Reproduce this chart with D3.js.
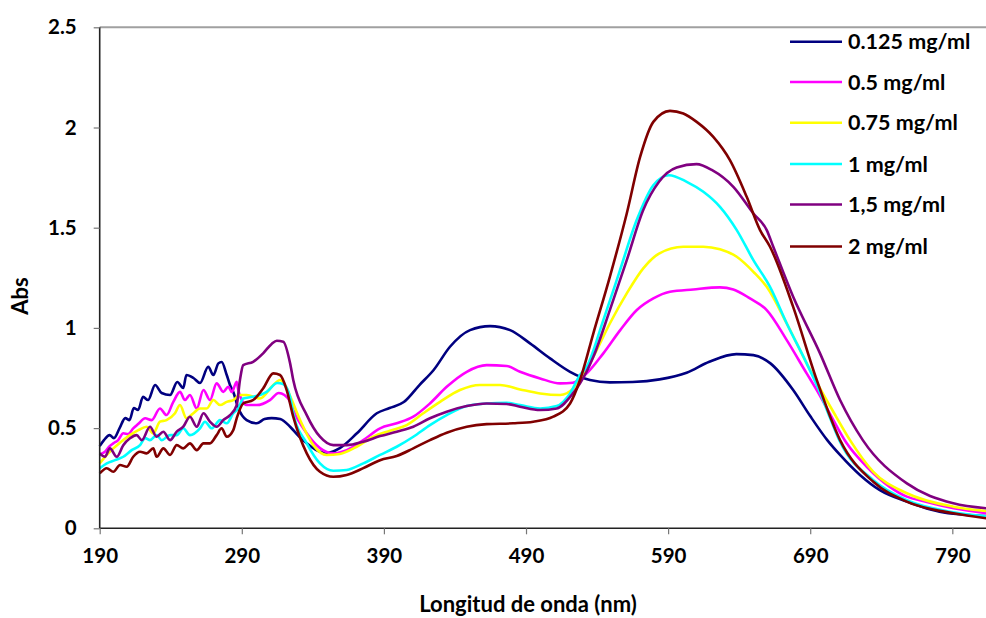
<!DOCTYPE html>
<html>
<head>
<meta charset="utf-8">
<script src="https://cdn.jsdelivr.net/npm/d3@7"></script>
<style>
  html, body { margin: 0; padding: 0; background: #fff; }
  svg { display: block; }
  text { font-family: Lato, "Open Sans", sans-serif; font-weight: bold; fill: #000; }
</style>
</head>
<body>
<svg id="chart" width="986" height="618"></svg>
<script>
// Absorbance spectra, [wavelength nm, Abs] pairs per concentration
const c0125 = [[190,0.41],[193,0.44],[197,0.465],[200,0.45],[204,0.5],[208,0.55],[211,0.54],[214,0.6],[217,0.59],[220.5,0.656],[224,0.64],[229,0.715],[233.6,0.675],[239.5,0.665],[244.6,0.73],[248.8,0.70],[251,0.765],[256,0.75],[260.6,0.725],[266.4,0.806],[270,0.765],[273.5,0.823],[275.8,0.83],[279.4,0.765],[281.7,0.715],[284,0.68],[287.5,0.6],[293.4,0.54],[300.5,0.524],[306,0.545],[311,0.55],[317,0.545],[324,0.507],[330,0.46],[335.7,0.424],[345,0.382],[351,0.377],[359,0.40],[371,0.474],[385,0.574],[394,0.6],[404,0.63],[415,0.715],[425,0.79],[436.5,0.906],[450.6,0.989],[464.7,1.009],[478.8,0.989],[492.8,0.923],[506.9,0.848],[521,0.781],[535,0.74],[549,0.728],[565,0.73],[584,0.743],[603,0.776],[619,0.831],[638,0.869],[650,0.864],[662,0.823],[678,0.69],[690,0.56],[702,0.44],[711,0.366],[725,0.266],[739,0.19],[758,0.133],[781,0.083],[814,0.061]];

const c05 = [[190,0.37],[193.7,0.382],[197,0.41],[199.6,0.424],[203,0.44],[206.6,0.474],[210,0.47],[213.6,0.499],[217,0.52],[222,0.549],[226.6,0.54],[232.4,0.598],[237,0.565],[241.8,0.631],[246.5,0.681],[250,0.64],[253.5,0.665],[258.3,0.598],[263,0.69],[267.6,0.64],[272.3,0.723],[277,0.681],[280.5,0.706],[283,0.68],[286.4,0.731],[287.5,0.69],[290,0.64],[293.4,0.615],[300.5,0.615],[309.8,0.64],[316,0.675],[320,0.665],[324,0.631],[326.2,0.59],[335.7,0.474],[345,0.40],[354.4,0.374],[363.8,0.39],[375.5,0.44],[387.3,0.499],[399,0.524],[410.7,0.557],[422.4,0.623],[434.2,0.706],[448.3,0.781],[462.3,0.814],[476.4,0.81],[485.8,0.781],[499.9,0.748],[514,0.723],[523,0.726],[532.7,0.773],[544.4,0.873],[556.3,0.989],[568,1.089],[579.6,1.147],[591.3,1.18],[607.7,1.192],[626.5,1.202],[635.9,1.192],[647.6,1.147],[659.4,1.089],[673.5,0.939],[687.5,0.773],[694.6,0.69],[704,0.57],[715.7,0.424],[729.8,0.307],[746,0.207],[758,0.158],[770,0.135],[791,0.1],[814,0.075]];

const c075 = [[190,0.324],[195,0.366],[199.6,0.399],[203,0.42],[206.6,0.44],[211.3,0.465],[217.2,0.49],[223,0.507],[227.7,0.474],[232.4,0.532],[237,0.54],[243,0.574],[246.5,0.615],[251,0.549],[255.9,0.574],[260.6,0.598],[265.3,0.598],[270,0.64],[274.7,0.615],[279.4,0.631],[284,0.64],[288.7,0.665],[293.4,0.665],[302.8,0.648],[312.2,0.715],[316.9,0.74],[320,0.72],[324,0.66],[331,0.54],[340.3,0.415],[349.7,0.366],[359,0.371],[370.9,0.407],[382.5,0.457],[394.3,0.487],[406,0.515],[417.7,0.574],[429.5,0.631],[443.5,0.69],[457.6,0.715],[471.7,0.715],[485.8,0.693],[499.9,0.673],[514,0.665],[523.3,0.698],[530,0.76],[537.4,0.856],[549,1.022],[560.9,1.172],[572.5,1.297],[583.6,1.371],[600.7,1.405],[614.8,1.405],[626.5,1.392],[638.3,1.355],[650,1.28],[659.4,1.205],[673.5,1.022],[687.5,0.823],[696.9,0.698],[708,0.56],[718,0.44],[734.4,0.282],[758,0.175],[790.7,0.108],[814,0.086]];

const c1 = [[190,0.3],[195,0.324],[200.8,0.34],[206.6,0.357],[212.5,0.39],[218.4,0.415],[222,0.45],[225.4,0.44],[230.1,0.465],[233.6,0.44],[239.5,0.465],[244.2,0.465],[248.8,0.499],[253.5,0.465],[260.6,0.499],[264.1,0.532],[268.8,0.499],[274.7,0.54],[279.4,0.524],[284,0.574],[287.5,0.598],[291,0.648],[298,0.656],[307.5,0.681],[315,0.725],[319,0.72],[324,0.656],[326.2,0.574],[335.7,0.424],[345,0.324],[354.4,0.287],[363.8,0.291],[375.5,0.324],[387.3,0.366],[399,0.407],[410.7,0.457],[422.4,0.515],[434.2,0.565],[448.3,0.61],[462.3,0.623],[476.4,0.626],[485.8,0.615],[499.9,0.598],[511.6,0.61],[521,0.673],[528,0.765],[532.7,0.806],[544.4,1.039],[555.4,1.272],[567.9,1.538],[579.6,1.712],[590.6,1.762],[603.1,1.729],[614.8,1.679],[626.5,1.604],[638.3,1.488],[650,1.338],[661.7,1.205],[673.5,1.022],[687.5,0.823],[695.7,0.698],[704,0.55],[711,0.432],[734.4,0.24],[758,0.14],[790.7,0.08],[814,0.06]];

const c15 = [[190,0.374],[193.7,0.357],[197.2,0.399],[202,0.357],[206.6,0.415],[211.3,0.449],[216,0.465],[219.6,0.44],[225.4,0.507],[230.1,0.457],[234.8,0.482],[239.5,0.44],[244.2,0.482],[248.8,0.507],[253.5,0.557],[258.3,0.507],[263,0.574],[267.6,0.532],[272.3,0.507],[277,0.54],[281.7,0.565],[286.4,0.615],[288.7,0.74],[291,0.814],[298,0.831],[305,0.873],[311,0.92],[314.6,0.936],[319.2,0.931],[324,0.823],[326.2,0.74],[335.7,0.565],[345,0.457],[354.4,0.415],[363.8,0.415],[375.5,0.432],[387.3,0.46],[399,0.482],[410.7,0.507],[422.4,0.549],[434.2,0.582],[448.3,0.61],[462.3,0.623],[476.4,0.62],[485.8,0.607],[499.9,0.59],[511.6,0.598],[523,0.673],[528,0.723],[537.4,0.856],[549,1.089],[560.9,1.338],[572.5,1.588],[583.6,1.729],[596,1.8],[610,1.817],[621,1.787],[635.9,1.704],[650,1.571],[659.4,1.488],[664,1.405],[678,1.155],[696.9,0.873],[711,0.64],[727,0.44],[758,0.224],[790.7,0.125],[814,0.1]];

const c2 = [[190,0.274],[195,0.3],[199.6,0.282],[204.3,0.316],[209,0.307],[213.6,0.357],[218.4,0.382],[223,0.374],[227.7,0.399],[230.1,0.357],[234.8,0.399],[239.5,0.366],[244.2,0.415],[248.8,0.399],[253.5,0.424],[258.3,0.39],[263,0.424],[267.6,0.424],[272.3,0.465],[275.8,0.499],[279.4,0.457],[284,0.49],[286.4,0.549],[291,0.623],[298,0.64],[305,0.698],[312.2,0.773],[316.9,0.765],[321.6,0.69],[326.2,0.557],[335.7,0.374],[345,0.282],[354.4,0.257],[363.8,0.266],[375.5,0.3],[387.3,0.34],[399,0.361],[410.7,0.399],[422.4,0.44],[434.2,0.477],[448.3,0.507],[462.3,0.52],[481,0.524],[495.1,0.532],[509.2,0.557],[521,0.623],[528,0.74],[537.4,0.973],[549,1.255],[560.9,1.571],[570.3,1.853],[579.6,2.028],[591.3,2.083],[600.7,2.07],[610.1,2.028],[621.8,1.953],[633.5,1.837],[645.3,1.654],[654.7,1.488],[661.7,1.405],[678,1.105],[694.6,0.74],[711,0.44],[734.4,0.232],[758,0.133],[790.7,0.075],[814,0.05]];

const seriesNames = ["0.125 mg/ml", "0.5 mg/ml", "0.75 mg/ml", "1 mg/ml", "1,5 mg/ml", "2 mg/ml"];
const seriesColors = ["#000080", "#ff00ff", "#ffff00", "#00ffff", "#800080", "#800000"];
const seriesData = [c0125, c05, c075, c1, c15, c2];

const xTicks = [190, 290, 390, 490, 590, 690, 790];
const yTicks = [0, 0.5, 1, 1.5, 2, 2.5];

const svg = d3.select("#chart");
const plotLeft = 99.7, plotRight = 986, plotTop = 27.3, plotBottom = 528.3;

const x = d3.scaleLinear().domain([190, 813.7]).range([plotLeft, plotRight]);
const y = d3.scaleLinear().domain([0, 2.5]).range([plotBottom, plotTop]);

// plot-area top border
svg.append("line")
  .attr("x1", plotLeft).attr("x2", plotRight)
  .attr("y1", plotTop).attr("y2", plotTop)
  .attr("stroke", "#a0a0a0").attr("stroke-width", 2);

// series
const line = d3.line()
  .x(d => x(d[0]))
  .y(d => y(d[1]))
  .curve(d3.curveMonotoneX);

const plot = svg.append("g");
seriesData.forEach((data, i) => {
  plot.append("path")
    .datum(data)
    .attr("d", line)
    .attr("fill", "none")
    .attr("stroke", seriesColors[i])
    .attr("stroke-width", 2.6)
    .attr("stroke-linejoin", "round");
});

// axes
const xAxis = d3.axisBottom(x).tickValues(xTicks).tickSize(6).tickPadding(14).tickFormat(d3.format("d"));
const yAxis = d3.axisLeft(y).tickValues(yTicks).tickSize(6).tickPadding(17).tickFormat(d => String(d));

const gx = svg.append("g").attr("transform", `translate(0,${plotBottom})`).call(xAxis);
const gy = svg.append("g").attr("transform", `translate(${plotLeft},0)`).call(yAxis);

[gx, gy].forEach(g => {
  g.select(".domain").attr("stroke", "#222").attr("stroke-width", 1.6);
  g.selectAll(".tick line").attr("stroke", "#777").attr("stroke-width", 1.2);
  g.selectAll(".tick text").style("font-size", "20.5px").style("font-family", "Lato, sans-serif").style("font-weight", "bold").attr("fill", "#000");
});
gx.select(".domain").attr("d", `M${plotLeft},0H${plotRight}`);
gy.select(".domain").attr("d", `M0,${plotBottom}V${plotTop}`);

// axis titles
svg.append("text")
  .attr("x", 528).attr("y", 604)
  .attr("dy", "0.35em")
  .attr("text-anchor", "middle")
  .style("font-size", "22px")
  .text("Longitud de onda (nm)");

svg.append("text")
  .attr("transform", "translate(20,296) rotate(-90)")
  .attr("dy", "0.35em")
  .attr("text-anchor", "middle")
  .style("font-size", "22px")
  .text("Abs");

// legend
const legend = svg.append("g");
const legendRows = [41.7, 82, 122.7, 164, 204.5, 246.5];
seriesNames.forEach((name, i) => {
  const ly = legendRows[i];
  legend.append("line")
    .attr("x1", 790).attr("x2", 842)
    .attr("y1", ly).attr("y2", ly)
    .attr("stroke", seriesColors[i]).attr("stroke-width", 2.6);
  legend.append("text")
    .attr("x", 848).attr("y", ly)
    .attr("dy", "0.36em")
    .style("font-size", "21.5px")
    .text(name);
});
</script>
</body>
</html>
